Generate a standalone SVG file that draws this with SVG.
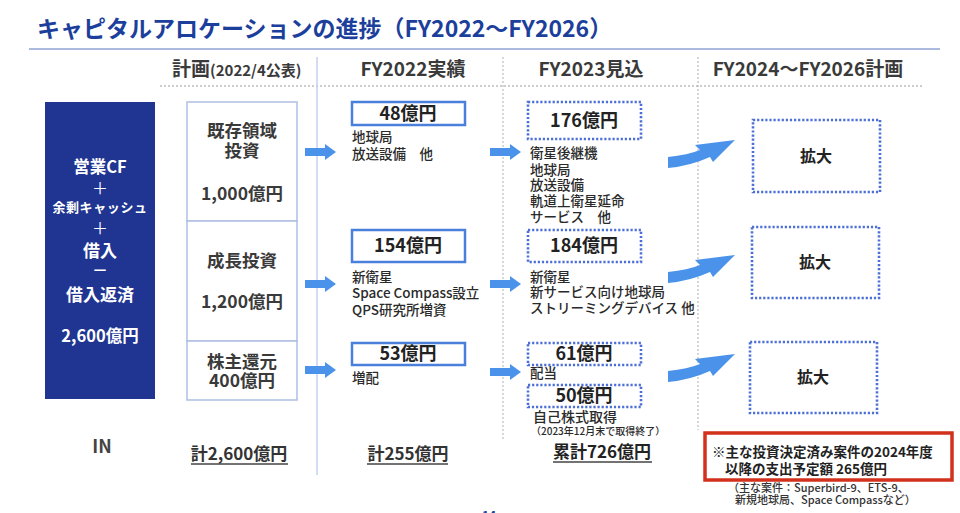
<svg xmlns="http://www.w3.org/2000/svg" width="960" height="513" viewBox="0 0 960 513">
<style>
text{font-family:"Noto Sans CJK JP","Liberation Sans",sans-serif;fill:#333}
.b{font-weight:700}
.m{font-weight:500}
.c{text-anchor:middle}
.w{fill:#fff;font-weight:700}
.pl{fill:#fff;font-weight:400}
.hd{font-size:19px;font-weight:700;fill:#3a3a3a}
.plan{fill:#fff;stroke:#aebfe3;stroke-width:1.5}
.pt{font-size:17.5px;font-weight:700;fill:#3a3a3a;text-anchor:middle}
.solid{fill:#fff;stroke:#4a7fdc;stroke-width:2.5}
.dot{fill:#fff;stroke:#4d6fd6;stroke-width:2.6;stroke-dasharray:2.2 1.9}
.amt{font-size:18px;font-weight:700;fill:#222;text-anchor:middle}
.desc{font-size:13.5px;font-weight:500;fill:#2a2a2a}
.arr{fill:#4b93ea}
.ul{stroke:#444;stroke-width:1.3}
</style>
<defs>
<path id="sa" d="M0,-4 L20,-4 L20,-8 L31,0 L20,8 L20,4 L0,4 Z"/>
<path id="ca" d="M0,-6 Q20,-8 32,-13 L27,-18 L67,-23 L45,-1 L42,-6 Q22,3 0,5 Z"/>
</defs>
<rect width="960" height="513" fill="#fff"/>

<g id="title">
<text x="37" y="37" font-size="23" class="b" style="fill:#1d3f9c">キャピタルアロケーションの進捗（FY2022～FY2026）</text>
<line x1="29" y1="49" x2="940" y2="49" stroke="#8fa3d3" stroke-width="1.3"/>
</g>

<g id="grid">
<line x1="160" y1="86" x2="922" y2="86" stroke="#9a9a9a" stroke-width="1" stroke-dasharray="2 2"/>
<line x1="317" y1="57" x2="317" y2="475" stroke="#c3d1ee" stroke-width="1.5"/>
<line x1="503" y1="57" x2="503" y2="440" stroke="#b0b0b0" stroke-width="1" stroke-dasharray="2 2"/>
<line x1="698" y1="57" x2="698" y2="430" stroke="#b0b0b0" stroke-width="1" stroke-dasharray="2 2"/>
</g>

<g id="headers">
<text x="172" y="76" class="b" font-size="19" style="fill:#3a3a3a">計画<tspan font-size="15">(2022/4公表)</tspan></text>
<text x="413" y="76" class="hd c">FY2022実績</text>
<text x="591" y="76" class="hd c">FY2023見込</text>
<text x="808" y="76" class="hd c">FY2024～FY2026計画</text>
</g>

<g id="in-box">
<rect x="45" y="102" width="110" height="297" fill="#1f3591"/>
<text x="100" y="173" font-size="16.5" class="w c">営業CF</text>
<text x="100" y="194" font-size="16" class="pl c">＋</text>
<text x="100" y="212" font-size="13" class="w c" letter-spacing="0.6">余剰キャッシュ</text>
<text x="100" y="234" font-size="16" class="pl c">＋</text>
<text x="100" y="257" font-size="17" class="w c">借入</text>
<text x="100" y="276" font-size="16" class="w c">－</text>
<text x="100" y="301" font-size="17" class="w c">借入返済</text>
<text x="100" y="342" font-size="16.5" class="w c">2,600億円</text>
</g>

<g id="plan-existing">
<rect class="plan" x="187" y="102" width="110" height="119"/>
<text x="242" y="137" class="pt">既存領域</text>
<text x="242" y="157" class="pt">投資</text>
<text x="242" y="200" class="pt">1,000億円</text>
</g>
<g id="plan-growth">
<rect class="plan" x="187" y="221" width="110" height="120"/>
<text x="242" y="267" class="pt">成長投資</text>
<text x="242" y="308" class="pt">1,200億円</text>
</g>
<g id="plan-return">
<rect class="plan" x="187" y="341" width="110" height="59"/>
<text x="242" y="368" class="pt">株主還元</text>
<text x="242" y="387" class="pt">400億円</text>
</g>

<g id="fy22-existing">
<rect class="solid" x="352" y="102" width="113" height="23"/>
<text x="408" y="120" class="amt">48億円</text>
<text x="352" y="142" class="desc">地球局</text>
<text x="352" y="159" class="desc">放送設備　他</text>
</g>
<g id="fy22-growth">
<rect class="solid" x="352" y="230" width="113" height="32"/>
<text x="408" y="252" class="amt">154億円</text>
<text x="352" y="282" class="desc">新衛星</text>
<text x="352" y="298" class="desc">Space Compass設立</text>
<text x="352" y="315" class="desc">QPS研究所増資</text>
</g>
<g id="fy22-return">
<rect class="solid" x="352" y="343" width="113" height="22"/>
<text x="408" y="360" class="amt">53億円</text>
<text x="352" y="383" class="desc">増配</text>
</g>

<g id="fy23-existing">
<rect class="dot" x="528" y="102" width="113" height="37"/>
<text x="584" y="127" class="amt">176億円</text>
<text x="530" y="158" class="desc">衛星後継機</text>
<text x="530" y="175" class="desc">地球局</text>
<text x="530" y="190" class="desc">放送設備</text>
<text x="530" y="206" class="desc">軌道上衛星延命</text>
<text x="530" y="222" class="desc">サービス　他</text>
</g>
<g id="fy23-growth">
<rect class="dot" x="528" y="230" width="113" height="32"/>
<text x="584" y="252" class="amt">184億円</text>
<text x="530" y="282" class="desc">新衛星</text>
<text x="530" y="297" class="desc">新サービス向け地球局</text>
<text x="530" y="313" class="desc b">ストリーミングデバイス 他</text>
</g>
<g id="fy23-dividend">
<rect class="dot" x="528" y="343" width="113" height="22"/>
<text x="584" y="360" class="amt">61億円</text>
<text x="530" y="378" class="desc b">配当</text>
</g>
<g id="fy23-buyback">
<rect class="dot" x="528" y="385" width="113" height="22"/>
<text x="584" y="402" class="amt">50億円</text>
<text x="533" y="422" font-size="14" class="m" style="fill:#2a2a2a">自己株式取得</text>
<text x="531" y="435" font-size="10" class="m" style="fill:#2a2a2a">（2023年12月末で取得終了）</text>
</g>

<g id="fy24-existing">
<rect class="dot" x="753" y="120" width="127" height="72"/>
<text x="816" y="162" font-size="16" class="b c" style="fill:#222">拡大</text>
</g>
<g id="fy24-growth">
<rect class="dot" x="752" y="227" width="127" height="71"/>
<text x="815" y="268" font-size="16" class="b c" style="fill:#222">拡大</text>
</g>
<g id="fy24-return">
<rect class="dot" x="750" y="342" width="127" height="71"/>
<text x="813" y="383" font-size="16" class="b c" style="fill:#222">拡大</text>
</g>

<g id="connectors">
<use href="#sa" class="arr" x="305" y="152"/>
<use href="#sa" class="arr" x="305" y="284"/>
<use href="#sa" class="arr" x="305" y="370"/>
<use href="#sa" class="arr" x="490" y="152"/>
<use href="#sa" class="arr" x="490" y="284"/>
<use href="#sa" class="arr" x="490" y="372"/>
<use href="#ca" class="arr" x="668" y="163"/>
<use href="#ca" class="arr" x="668" y="278"/>
<use href="#ca" class="arr" x="668" y="377"/>
</g>

<g id="totals">
<text x="102" y="453" font-size="18" class="b c" style="fill:#444">IN</text>
<text x="239" y="460" font-size="17" class="b c" style="fill:#333">計2,600億円</text>
<line class="ul" x1="191" y1="464" x2="288" y2="464"/>
<text x="408" y="460" font-size="17" class="b c" style="fill:#333">計255億円</text>
<line class="ul" x1="367" y1="464" x2="448" y2="464"/>
<text x="602" y="458" font-size="17" class="b c" style="fill:#222">累計726億円</text>
<line class="ul" x1="553" y1="462" x2="652" y2="462"/>
</g>

<g id="note">
<rect x="705" y="433" width="247" height="47" fill="#fff" stroke="#d2321c" stroke-width="3.5"/>
<text x="712" y="457" font-size="13.5" class="b" style="fill:#222">※主な投資決定済み案件の2024年度</text>
<text x="725" y="474" font-size="13.5" class="b" style="fill:#222">以降の支出予定額 265億円</text>
<text x="728" y="492" font-size="11" class="m" style="fill:#333">（主な案件：Superbird-9、ETS-9、</text>
<text x="735" y="504" font-size="11" class="m" style="fill:#333">新規地球局、Space Compassなど）</text>
</g>

<text x="482" y="520" font-size="12" class="b" style="fill:#1d3f9c">14</text>
</svg>
